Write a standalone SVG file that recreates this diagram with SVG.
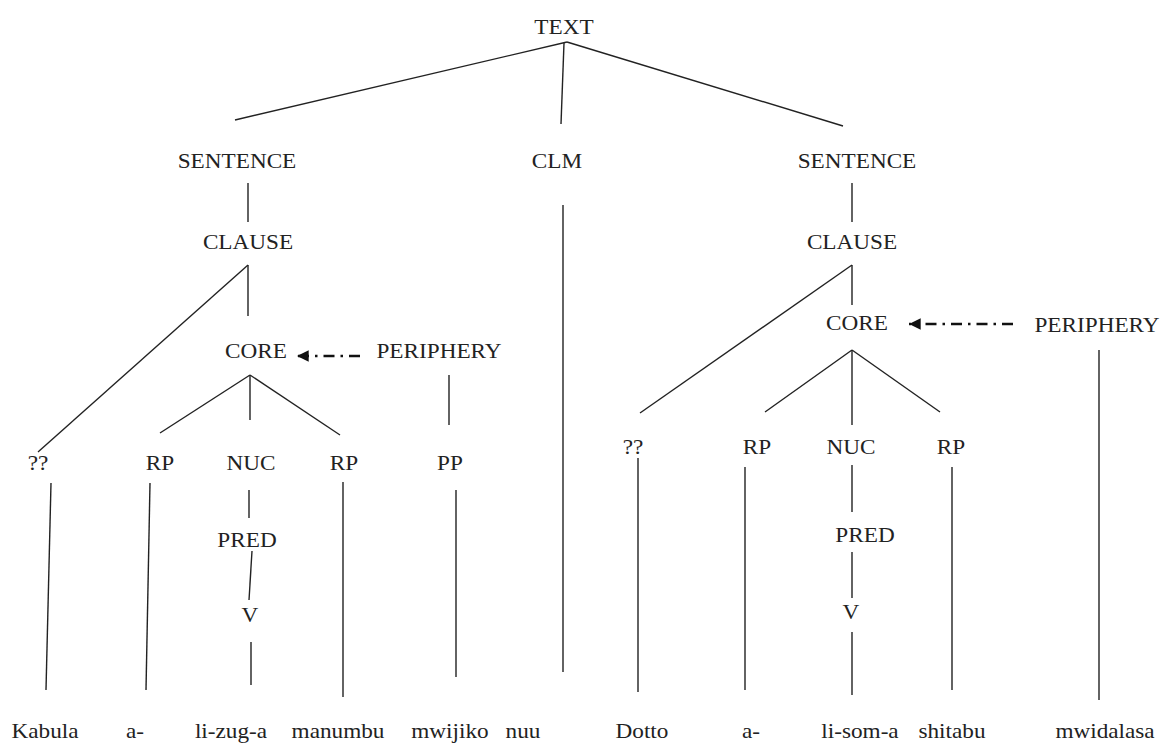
<svg xmlns="http://www.w3.org/2000/svg" width="1163" height="745" viewBox="0 0 1163 745">
  <style>
    text { font-family: "Liberation Serif", "Times New Roman", serif; font-size: 21.5px; fill: #222; text-anchor: middle;
           transform-box: fill-box; transform-origin: center; transform: scaleX(1.08); }
    .edge { stroke: #222; stroke-width: 1.4; fill: none; }
    .link { stroke: #111; stroke-width: 2.6; fill: none; stroke-dasharray: 11 6 2.5 6; }
  </style>
  <defs>
    <marker id="head" viewBox="0 0 10 10" refX="10" refY="5" markerWidth="6.5" markerHeight="4.5" markerUnits="strokeWidth" orient="auto">
      <path d="M0,0 L10,5 L0,10 z" fill="#111"/>
    </marker>
  </defs>
  <rect width="1163" height="745" fill="#fff"/>

  <!-- tree branches -->
  <g id="connectors">
    <line class="edge" x1="567" y1="42" x2="235" y2="120"/>
    <line class="edge" x1="567" y1="42" x2="843" y2="126"/>
    <line class="edge" x1="564" y1="43" x2="561" y2="124"/>
    <line class="edge" x1="248" y1="183" x2="248" y2="222"/>
    <line class="edge" x1="248" y1="265" x2="38" y2="452"/>
    <line class="edge" x1="248" y1="265" x2="248" y2="316"/>
    <line class="edge" x1="250" y1="375" x2="160" y2="433"/>
    <line class="edge" x1="250" y1="375" x2="250" y2="420"/>
    <line class="edge" x1="250" y1="375" x2="340" y2="435"/>
    <line class="edge" x1="449" y1="375" x2="449" y2="425"/>
    <line class="edge" x1="51" y1="483" x2="46" y2="690"/>
    <line class="edge" x1="150" y1="483" x2="146" y2="690"/>
    <line class="edge" x1="249" y1="490" x2="249" y2="518"/>
    <line class="edge" x1="252" y1="551" x2="249" y2="600"/>
    <line class="edge" x1="251" y1="642" x2="251" y2="685"/>
    <line class="edge" x1="343" y1="482" x2="343" y2="697"/>
    <line class="edge" x1="456" y1="490" x2="456" y2="677"/>
    <line class="edge" x1="563" y1="205" x2="563" y2="672"/>
    <line class="edge" x1="852" y1="183" x2="852" y2="222"/>
    <line class="edge" x1="852" y1="265" x2="640" y2="413"/>
    <line class="edge" x1="852" y1="265" x2="852" y2="305"/>
    <line class="edge" x1="852" y1="350" x2="765" y2="412"/>
    <line class="edge" x1="852" y1="350" x2="852" y2="425"/>
    <line class="edge" x1="852" y1="350" x2="940" y2="412"/>
    <line class="edge" x1="1099" y1="350" x2="1099" y2="700"/>
    <line class="edge" x1="638" y1="458" x2="638" y2="692"/>
    <line class="edge" x1="745" y1="467" x2="745" y2="690"/>
    <line class="edge" x1="852" y1="465" x2="852" y2="512"/>
    <line class="edge" x1="852" y1="552" x2="852" y2="598"/>
    <line class="edge" x1="852" y1="632" x2="852" y2="695"/>
    <line class="edge" x1="952" y1="467" x2="952" y2="690"/>
    <!-- periphery to core links -->
    <line class="link" x1="360" y1="356" x2="297" y2="356" marker-end="url(#head)"/>
    <line class="link" x1="1013" y1="324" x2="909" y2="324" marker-end="url(#head)"/>
  </g>

  <g id="n-text"><text x="564" y="34">TEXT</text></g>
  <g id="n-sentence1"><text x="237" y="168">SENTENCE</text></g>
  <g id="n-clm"><text x="557" y="168">CLM</text></g>
  <g id="n-sentence2"><text x="857" y="168">SENTENCE</text></g>
  <g id="n-clause1"><text x="248" y="249">CLAUSE</text></g>
  <g id="n-clause2"><text x="852" y="249">CLAUSE</text></g>
  <g id="n-core1"><text x="256" y="358">CORE</text></g>
  <g id="n-periphery1"><text x="439" y="358">PERIPHERY</text></g>
  <g id="n-core2"><text x="857" y="330">CORE</text></g>
  <g id="n-periphery2"><text x="1097" y="332">PERIPHERY</text></g>
  <g id="n-q1"><text x="38" y="470">??</text></g>
  <g id="n-rp1"><text x="160" y="470">RP</text></g>
  <g id="n-nuc1"><text x="251" y="470">NUC</text></g>
  <g id="n-rp2"><text x="344" y="470">RP</text></g>
  <g id="n-pp"><text x="450" y="470">PP</text></g>
  <g id="n-pred1"><text x="247" y="547">PRED</text></g>
  <g id="n-v1"><text x="250" y="622">V</text></g>
  <g id="n-q2"><text x="633" y="454">??</text></g>
  <g id="n-rp3"><text x="757" y="454">RP</text></g>
  <g id="n-nuc2"><text x="851" y="454">NUC</text></g>
  <g id="n-rp4"><text x="951" y="454">RP</text></g>
  <g id="n-pred2"><text x="865" y="542">PRED</text></g>
  <g id="n-v2"><text x="851" y="619">V</text></g>

  <g id="words">
    <text x="45" y="738">Kabula</text>
    <text x="135" y="738">a-</text>
    <text x="231" y="738">li-zug-a</text>
    <text x="338" y="738">manumbu</text>
    <text x="450" y="738">mwijiko</text>
    <text x="523" y="738">nuu</text>
    <text x="642" y="738">Dotto</text>
    <text x="751" y="738">a-</text>
    <text x="860" y="738">li-som-a</text>
    <text x="952" y="738">shitabu</text>
    <text x="1105" y="738">mwidalasa</text>
  </g>
</svg>
